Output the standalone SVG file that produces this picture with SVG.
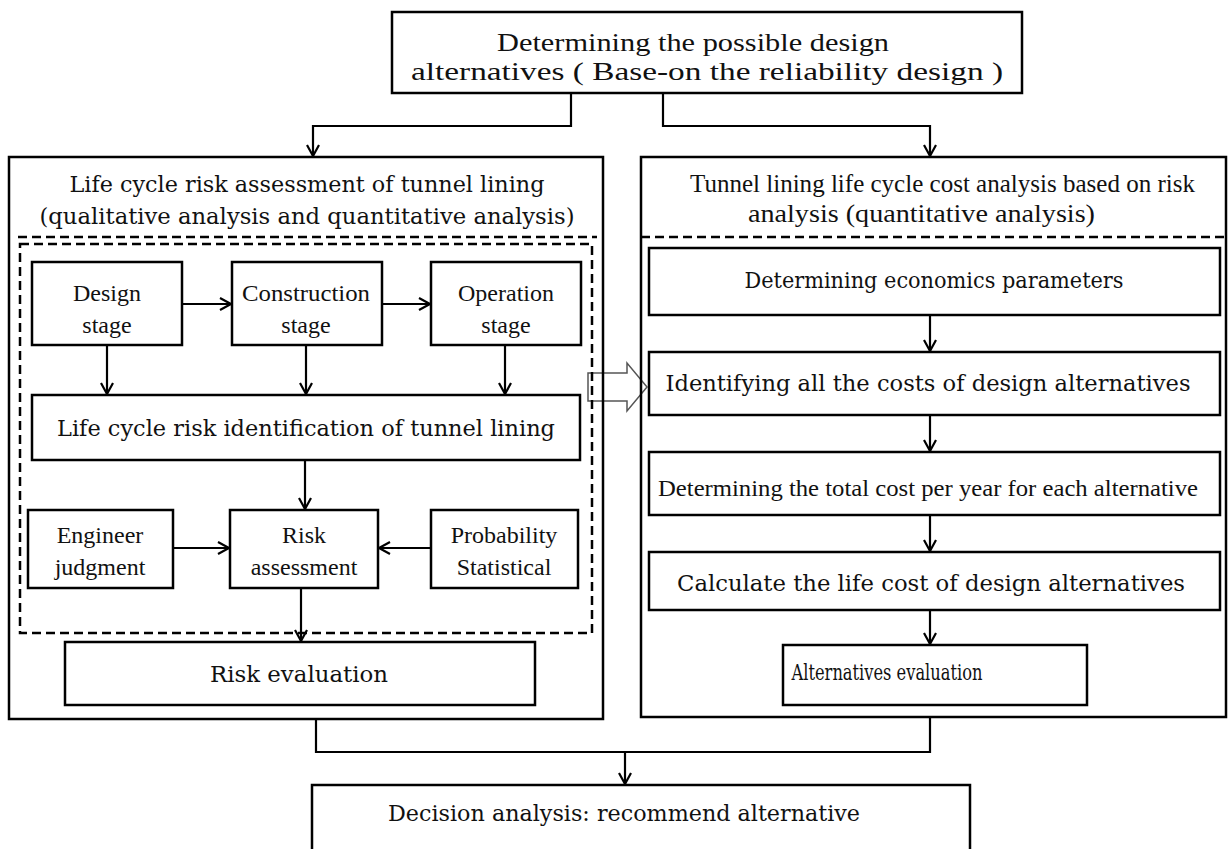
<svg xmlns="http://www.w3.org/2000/svg" width="1228" height="849" viewBox="0 0 1228 849">
<defs>
<marker id="arr" markerWidth="16" markerHeight="16" refX="12" refY="8" orient="auto" markerUnits="userSpaceOnUse">
<path d="M1,2 L12,8 L1,14" fill="none" stroke="#000" stroke-width="2.2"/>
</marker>
</defs>
<style>
.b{fill:#fff;stroke:#000;stroke-width:2.5}
.ob{fill:none;stroke:#000;stroke-width:2.5}
.d{fill:none;stroke:#000;stroke-width:2.5;stroke-dasharray:9,5}
.c{fill:none;stroke:#000;stroke-width:2.2}
.t{font-family:"Liberation Serif","Times New Roman",serif;font-size:24px;fill:#111;text-anchor:middle}
.s{font-family:"Liberation Serif","Times New Roman",serif;font-size:25px;fill:#111}
.w{font-family:"DejaVu Serif","Liberation Serif",serif;font-size:22px;fill:#111;text-anchor:middle}
</style>
<rect width="1228" height="849" fill="#fff"/>

<g id="connectors">
<polyline class="c" points="571,93 571,126 313,126 313,156" marker-end="url(#arr)"/>
<polyline class="c" points="663,93 663,126 930,126 930,156" marker-end="url(#arr)"/>
<line class="c" x1="182" y1="304" x2="231" y2="304" marker-end="url(#arr)"/>
<line class="c" x1="382" y1="304" x2="430" y2="304" marker-end="url(#arr)"/>
<line class="c" x1="107" y1="345" x2="107" y2="394" marker-end="url(#arr)"/>
<line class="c" x1="306" y1="345" x2="306" y2="394" marker-end="url(#arr)"/>
<line class="c" x1="505" y1="345" x2="505" y2="394" marker-end="url(#arr)"/>
<line class="c" x1="305" y1="460" x2="305" y2="509" marker-end="url(#arr)"/>
<line class="c" x1="173" y1="548" x2="229" y2="548" marker-end="url(#arr)"/>
<line class="c" x1="431" y1="548" x2="379" y2="548" marker-end="url(#arr)"/>
<line class="c" x1="301" y1="588" x2="301" y2="641" marker-end="url(#arr)"/>
<line class="c" x1="930" y1="315" x2="930" y2="351" marker-end="url(#arr)"/>
<line class="c" x1="930" y1="415" x2="930" y2="451" marker-end="url(#arr)"/>
<line class="c" x1="930" y1="515" x2="930" y2="551" marker-end="url(#arr)"/>
<line class="c" x1="930" y1="610" x2="930" y2="644" marker-end="url(#arr)"/>
<polyline class="c" points="316,719 316,752 930,752 930,717"/>
<line class="c" x1="625" y1="752" x2="625" y2="784" marker-end="url(#arr)"/>
<path d="M588,373 L627,373 L627,363 L647,387 L627,411 L627,401 L588,401 Z" fill="#fff" stroke="#555" stroke-width="1.5"/>
</g>

<g id="top">
<rect class="b" x="392" y="12" width="630" height="81"/>
<text class="s" x="497" y="51" textLength="392" lengthAdjust="spacingAndGlyphs">Determining the possible design</text>
<text class="s" x="411" y="80" textLength="592" lengthAdjust="spacingAndGlyphs">alternatives ( Base-on the reliability design )</text>
</g>

<g id="risk-panel">
<rect class="ob" x="9" y="157" width="594" height="562"/>
<text class="w" x="307" y="192" textLength="475" lengthAdjust="spacingAndGlyphs">Life cycle risk assessment of tunnel lining</text>
<text class="w" x="307" y="224" textLength="535" lengthAdjust="spacingAndGlyphs">(qualitative analysis and quantitative analysis)</text>
<line class="d" x1="18" y1="237" x2="597" y2="237"/>
<rect class="d" x="20" y="244" width="572" height="389"/>
</g>

<g id="design">
<rect class="b" x="32" y="262" width="150" height="83"/>
<text class="t" x="107" y="301">Design</text>
<text class="t" x="107" y="333">stage</text>
</g>
<g id="construction">
<rect class="b" x="232" y="262" width="150" height="83"/>
<text class="t" x="306" y="301" textLength="128" lengthAdjust="spacingAndGlyphs">Construction</text>
<text class="t" x="306" y="333">stage</text>
</g>
<g id="operation">
<rect class="b" x="431" y="262" width="150" height="83"/>
<text class="t" x="506" y="301">Operation</text>
<text class="t" x="506" y="333">stage</text>
</g>
<g id="identification">
<rect class="b" x="32" y="395" width="548" height="65"/>
<text class="w" x="306" y="436" textLength="498" lengthAdjust="spacingAndGlyphs">Life cycle risk identification of tunnel lining</text>
</g>
<g id="engineer">
<rect class="b" x="28" y="510" width="145" height="78"/>
<text class="t" x="100" y="543">Engineer</text>
<text class="t" x="100" y="575">judgment</text>
</g>
<g id="riskassess">
<rect class="b" x="230" y="510" width="148" height="78"/>
<text class="t" x="304" y="543">Risk</text>
<text class="t" x="304" y="575">assessment</text>
</g>
<g id="probability">
<rect class="b" x="431" y="510" width="147" height="78"/>
<text class="t" x="504" y="543">Probability</text>
<text class="t" x="504" y="575">Statistical</text>
</g>
<g id="riskeval">
<rect class="b" x="65" y="642" width="470" height="63"/>
<text class="w" x="299" y="682" textLength="178" lengthAdjust="spacingAndGlyphs">Risk evaluation</text>
</g>

<g id="cost-panel">
<rect class="ob" x="641" y="157" width="585" height="560"/>
<text class="s" x="690" y="192" textLength="505" lengthAdjust="spacingAndGlyphs">Tunnel lining life cycle cost analysis based on    risk</text>
<text class="s" x="748" y="222" textLength="347" lengthAdjust="spacingAndGlyphs">analysis  (quantitative analysis)</text>
<line class="d" x1="641" y1="237" x2="1226" y2="237"/>
</g>
<g id="econ">
<rect class="b" x="649" y="248" width="571" height="67"/>
<text class="w" x="934" y="288" textLength="379" lengthAdjust="spacingAndGlyphs">Determining economics parameters</text>
</g>
<g id="identify">
<rect class="b" x="649" y="352" width="571" height="63"/>
<text class="w" x="928" y="391" textLength="525" lengthAdjust="spacingAndGlyphs">Identifying all the costs of design alternatives</text>
</g>
<g id="total">
<rect class="b" x="649" y="452" width="571" height="63"/>
<text class="t" x="928" y="496" textLength="540" lengthAdjust="spacingAndGlyphs">Determining the total cost per year for each alternative</text>
</g>
<g id="calc">
<rect class="b" x="649" y="552" width="571" height="58"/>
<text class="w" x="931" y="591" textLength="508" lengthAdjust="spacingAndGlyphs">Calculate the life cost of design alternatives</text>
</g>
<g id="altEval">
<rect class="b" x="783" y="645" width="304" height="60"/>
<text class="w" x="887" y="680" textLength="191" lengthAdjust="spacingAndGlyphs">Alternatives evaluation</text>
</g>

<g id="decision">
<rect class="b" x="312" y="785" width="658" height="70"/>
<text class="w" x="624" y="821" textLength="472" lengthAdjust="spacingAndGlyphs">Decision analysis: recommend alternative</text>
</g>
</svg>
